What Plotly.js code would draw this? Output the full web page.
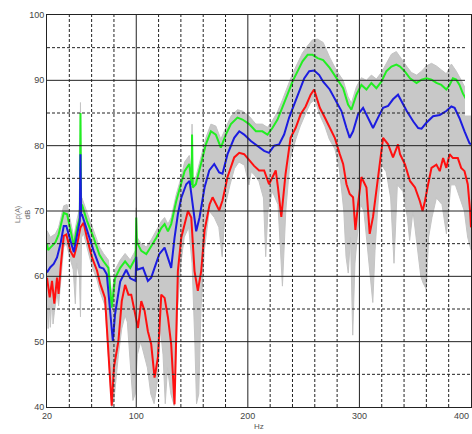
<!DOCTYPE html>
<html>
<head>
<meta charset="utf-8">
<script src="https://cdn.plot.ly/plotly-3.0.1.min.js"></script>
<style>
  html, body { margin: 0; padding: 0; background: #fff; }
  #chart { width: 472px; height: 434px; }
</style>
</head>
<body>
<div id="chart"></div>
<script>
// spectra, Hz / dB
var greenF = [20, 21, 23, 27.5, 30.4, 35, 38, 41, 44, 47, 49.4, 50, 50.6, 51.3, 55.8, 61.8, 67, 70.6, 75, 78, 81, 85.6, 90, 94.6, 99.4, 100, 100.6, 104.5, 109, 113.4, 118, 122.4, 125.4, 128.4, 131.3, 135.8, 140.3, 143.3, 147.5, 149.6, 150, 150.6, 153.4, 158, 162.4, 166.9, 171.3, 175.8, 180.3, 184.8, 190.7, 195.2, 201.2, 207.2, 213, 217.6, 222, 226.6, 231, 235.5, 240, 244.5, 249, 253.6, 258, 262.5, 267.5, 273.4, 279.4, 285.4, 289.8, 292.8, 297.3, 301.8, 306.3, 310.7, 315.2, 319.7, 324.2, 328.7, 333.1, 336.4, 341, 345.3, 351.2, 355.7, 360, 364.6, 369, 373.4, 377.9, 380.8, 383.8, 386.8, 389.7, 392.7, 396, 400];
var greenDb = [65, 64, 64.4, 65.2, 66.4, 69.7, 69.5, 67, 64.7, 67.5, 69, 85, 70, 71, 68.5, 65.9, 63.3, 62.3, 61.3, 55.2, 59.7, 61.3, 62.3, 61.3, 62.8, 69, 65.2, 63.9, 63.4, 64.6, 65.9, 67.4, 68, 66.9, 68, 71.5, 74.1, 76.1, 77.2, 74, 81.7, 73.6, 74.1, 77.2, 80.2, 82.2, 81.7, 79.7, 81.7, 83.3, 84.3, 84, 83.3, 82.2, 82.2, 81.7, 82.7, 84, 85.8, 87.8, 89.8, 91.4, 92.9, 93.9, 93.9, 93.4, 93.1, 91.9, 90.3, 88.8, 86.3, 85.5, 87.8, 89.3, 88.6, 89.6, 88.8, 89.8, 91.4, 92.1, 92.4, 92.1, 91.3, 90.3, 89.6, 90.1, 90.3, 90.1, 89.6, 89.3, 88.6, 89.3, 90.3, 90.1, 89.3, 88, 87, 86];

var blueF = [20, 23, 26, 29, 32, 35, 37.3, 41, 44, 47, 49.4, 50, 50.6, 51.3, 55.8, 61.8, 67.2, 70.6, 73.6, 77, 79, 81, 85.6, 91, 94.6, 99.4, 100, 100.6, 106, 110.4, 113.4, 116.4, 120.6, 125.4, 128.4, 131.3, 134.3, 137.3, 140.3, 144.8, 147.8, 150.7, 153.7, 156.7, 161.2, 165.4, 169.9, 174.3, 177.3, 181.8, 187.8, 192.3, 196.7, 202.7, 208.6, 214.6, 219, 223.6, 228, 232.5, 237, 241.5, 246, 250.5, 255, 259.5, 264, 267.5, 273.4, 279.4, 283.9, 288.4, 291.3, 294.3, 298.8, 303.3, 307.8, 312.2, 316.7, 321.2, 325.7, 330.1, 334.6, 342.4, 348.3, 352.7, 355.7, 360, 366, 372, 377.9, 382.4, 385.3, 389.7, 394.2, 398.6, 400];
var blueDb = [60.6, 61.4, 61.9, 62.9, 64.9, 67.7, 67.7, 65.4, 63.7, 66.4, 68.5, 78.7, 69.2, 69.5, 67, 63.9, 61.4, 61.2, 60.3, 53.2, 50.1, 54.2, 59.2, 61, 59.7, 59.3, 63, 61, 61.3, 59.3, 59.8, 61.3, 63.4, 64.4, 62.9, 61.3, 65.9, 69.5, 72, 74.1, 74.6, 71, 66.9, 69, 73.6, 76.2, 77.2, 75.9, 75.7, 78.7, 81.2, 82.2, 81.7, 80.7, 80, 79.2, 78.9, 80, 80.2, 81.7, 84.3, 86.3, 88.6, 90.3, 91.4, 91.5, 90.8, 89.8, 88.6, 86.8, 85.3, 82.7, 81.2, 82.2, 84.8, 85.8, 84.3, 82.7, 84.3, 85.8, 86.1, 87.1, 87.8, 85.3, 83.7, 82.7, 82.6, 83.5, 84.5, 84.7, 85.3, 86, 85.8, 84.2, 82.2, 80.4, 80.2];

var redF = [20, 22.4, 24.5, 26.6, 29, 30.4, 32.5, 35, 37.3, 41, 44, 47, 50, 52.8, 55.8, 60.3, 64.8, 67.8, 72, 75, 78, 80, 84, 87, 90, 93, 95.5, 98.5, 101.5, 104.5, 107.5, 110.4, 113.4, 116.4, 119.4, 122.4, 125.4, 128.4, 131.3, 134.3, 137.3, 140.3, 143.3, 146.3, 149.3, 152.2, 155.2, 158.2, 161.2, 165.7, 168.4, 171.3, 174.3, 177.3, 181.8, 187.8, 192.3, 196.7, 201.2, 205.6, 210.1, 214.6, 219, 222, 225, 227, 230, 233.8, 238.3, 242.8, 247.3, 251.8, 256.3, 259.4, 264.5, 269, 273.4, 277.9, 282.4, 285.4, 288.4, 291.3, 294.3, 296.4, 298.8, 301.8, 306.3, 309.2, 312.2, 315.2, 318.2, 321.2, 325.7, 330.1, 334.6, 336.4, 340.9, 345.3, 349.8, 354.2, 356.6, 358.7, 361.6, 364.6, 369, 372, 375, 377.9, 380.8, 383.8, 388.2, 391.2, 394.2, 397.1, 399.2, 400];
var redDb = [59.8, 56.8, 59.3, 55.8, 59.8, 57.3, 61.9, 66.2, 66.4, 63.9, 62.9, 64.9, 67.5, 68.2, 65.9, 62.9, 60.9, 58.8, 56.7, 49.1, 40.2, 46.1, 50.1, 56.2, 58.7, 57.2, 57.2, 54.7, 52.1, 56.2, 54.7, 51.6, 49.6, 44.5, 47.6, 57.2, 56.7, 53.7, 49.6, 40.4, 60.8, 65.9, 68, 70, 69, 60.8, 57.8, 60.8, 67, 71, 72.1, 71.1, 70.1, 71.6, 75.2, 78.2, 78.9, 78.7, 77.7, 76.9, 76.2, 76.2, 74.1, 75.2, 76.2, 73.6, 69.1, 75.7, 81.2, 82.7, 84.8, 86, 87.8, 88.6, 85.8, 84.3, 82.7, 81.2, 78.7, 77.2, 74.1, 72.6, 72.1, 67.1, 71.1, 75.2, 73.6, 66.5, 69.1, 73.1, 77.2, 81.2, 80.2, 78.2, 80.2, 78.7, 77.1, 74.6, 73.6, 71.5, 70, 71.5, 74.1, 76.6, 77.1, 76.1, 78.1, 76.6, 78.7, 78.1, 78.1, 76.6, 76.1, 74.1, 70, 67.5];

// grey bundle of single measurements: upper and lower edge
var grayUpF = [20, 23, 27.5, 30.4, 35, 38, 41, 44, 47, 49.4, 50, 50.6, 51.3, 55.8, 61.8, 67, 70.6, 75, 78, 81, 85.6, 90, 94.6, 99.4, 100, 100.6, 104.5, 109, 113.4, 118, 122.4, 125.4, 128.4, 131.3, 135.8, 140.3, 143.3, 147.5, 149.6, 150, 150.6, 153.4, 158, 162.4, 166.9, 171.3, 175.8, 180.3, 184.8, 190.7, 195.2, 201.2, 207.2, 213, 217.6, 222, 226.6, 231, 235.5, 240, 244.5, 249, 253.6, 258, 262.5, 267.5, 273.4, 279.4, 285.4, 289.8, 292.8, 297.3, 301.8, 306.3, 310.7, 315.2, 319.7, 324.2, 328.7, 333.1, 337.6, 342.1, 346.6, 351.2, 355.7, 360, 364.6, 369, 373.4, 377.9, 382.4, 386.8, 391.3, 394.3, 400];
var grayUpDb = [67, 66, 66.5, 67.5, 70.8, 71, 68.5, 66, 68.8, 70.5, 86.6, 71.5, 72, 69.8, 67, 64.5, 63.5, 62.5, 57, 61, 62.5, 63.5, 62.5, 64, 70.5, 66, 65, 64.5, 65.6, 67, 68.4, 69, 68, 69, 72.5, 75.2, 77.5, 78.5, 76, 83.3, 75, 75.2, 78.2, 81.2, 83.3, 83, 81, 82.8, 84.5, 85.5, 85.3, 84.5, 83.3, 83.3, 82.8, 83.8, 85.2, 87, 89, 91, 92.6, 94.2, 95.3, 96.2, 96.3, 95.8, 93.5, 91.5, 90, 87.5, 86.5, 89, 90.4, 90, 90.8, 90.2, 91.2, 92.6, 94, 94.4, 93.2, 92.2, 91.2, 90.8, 91.4, 92.2, 92.6, 92.2, 91.6, 91, 92.5, 91.4, 90, 89, 87.5];

var grayLoF = [20, 21, 22, 23, 24.5, 25.4, 26.6, 29, 30.4, 32.5, 35, 37.3, 41, 43.5, 45.4, 46.5, 49, 50, 51, 52.8, 55.8, 60.3, 64.8, 67.8, 72, 75, 78, 80, 84, 87, 90, 92, 95, 97, 99, 101, 104, 107, 110, 113, 116, 119, 121.6, 124, 126, 128, 131, 134, 137, 140, 143, 147, 150, 152.5, 154, 156, 158, 161, 165.4, 170, 174, 177, 180, 184, 188, 192, 197, 201, 203, 206, 210, 214, 216, 218, 222, 227, 231, 234, 238, 243, 247, 252, 256, 260, 265, 269, 273, 278, 282, 286, 288, 290, 292, 294, 296, 298, 301, 304, 307, 310, 312, 314, 317, 320, 324, 328, 331, 334, 339, 343, 345, 348, 352, 355, 357, 360, 362, 365, 369, 374, 378, 382, 386, 390, 394, 397, 400];
var grayLoDb = [56.5, 52, 55.5, 52.2, 57, 52.7, 54.5, 57.5, 55.5, 60, 64.5, 65, 62.5, 61, 55.8, 62, 60, 53.8, 66, 66.5, 64.5, 61.5, 59.5, 57.5, 55.5, 48, 40, 41, 48, 52, 54, 53, 45, 41, 42, 48, 50, 48, 46, 42, 40.5, 44, 52, 48, 40.5, 46, 42, 40.2, 55, 62, 66, 67.5, 62, 50, 40.5, 42, 55, 64, 70, 69, 67.5, 63, 71, 74, 76.5, 77.5, 77, 74, 76, 75.5, 74.5, 72, 63, 70, 73, 71, 58.5, 70, 78, 81, 83, 85, 86.5, 87, 84.5, 83, 81, 79.5, 76.5, 70, 63, 60.5, 66, 51, 62, 66, 71, 70, 65, 60, 56, 64, 72, 77, 76, 72, 62, 74, 73, 69, 65.5, 70, 64.5, 60, 59, 58, 66, 69, 72, 71, 66.5, 74, 74, 72, 70, 66, 64];

var xTicks = [20, 100, 200, 300, 400];
var xTickText = ['20', '100', '200', '300', ''];
var yTicks = [40, 50, 60, 70, 80, 90, 100];
// grid drawn over the curves, as in the original
var xMajorGrid = [100, 200, 300];
var xMinorGrid = [40, 60, 80, 120, 140, 160, 180, 220, 240, 260, 280, 320, 340, 360, 380];
var yMajorGrid = [50, 60, 70, 80, 90];
var yMinorGrid = [45, 55, 65, 75, 85, 95];

var grayUpper = {
  x: grayUpF, y: grayUpDb,
  mode: 'lines', hoverinfo: 'skip',
  line: { width: 1, color: '#c4c4c4' },
};

var grayLower = {
  x: grayLoF, y: grayLoDb,
  mode: 'lines', hoverinfo: 'skip',
  fill: 'tonexty', fillcolor: '#c8c8c8',
  line: { width: 1, color: '#c4c4c4' },
};

var greenLine = {
  x: greenF, y: greenDb, mode: 'lines', name: 'max',
  line: { width: 2, color: '#22ee22' },
};

var redLine = {
  x: redF, y: redDb, mode: 'lines', name: 'min',
  line: { width: 2, color: '#ff1010' },
};

var blueLine = {
  x: blueF, y: blueDb, mode: 'lines', name: 'mean',
  line: { width: 2, color: '#1c1ce0' },
};

var data = [grayUpper, grayLower, greenLine, redLine, blueLine];

var shapes = [];
xMajorGrid.forEach(function (v) {
  shapes.push({ type: 'line', xref: 'x', yref: 'paper', x0: v, x1: v, y0: 0, y1: 1,
    line: { width: 1, color: '#222' }, layer: 'above' });
});
xMinorGrid.forEach(function (v) {
  shapes.push({ type: 'line', xref: 'x', yref: 'paper', x0: v, x1: v, y0: 0, y1: 1,
    line: { width: 1, color: '#222', dash: '3px,2px' }, layer: 'above' });
});
yMajorGrid.forEach(function (v) {
  shapes.push({ type: 'line', xref: 'paper', yref: 'y', x0: 0, x1: 1, y0: v, y1: v,
    line: { width: 1, color: '#222' }, layer: 'above' });
});
yMinorGrid.forEach(function (v) {
  shapes.push({ type: 'line', xref: 'paper', yref: 'y', x0: 0, x1: 1, y0: v, y1: v,
    line: { width: 1, color: '#222', dash: '3px,2px' }, layer: 'above' });
});
// blank patch in the upper right corner of the original
shapes.push({ type: 'rect', xref: 'x', yref: 'y', x0: 394.6, x1: 402, y0: 84.6, y1: 101,
  fillcolor: '#ffffff', line: { width: 0 }, layer: 'above' });

var layout = {
  width: 472,
  height: 434,
  margin: { l: 47, r: 1, t: 15, b: 27 },
  paper_bgcolor: '#ffffff',
  plot_bgcolor: '#ffffff',
  showlegend: false,
  font: { family: 'Liberation Sans, Arial, sans-serif', size: 9, color: '#333' },
  xaxis: {
    range: [20, 400],
    tickmode: 'array',
    tickvals: xTicks,
    ticktext: xTickText,
    ticks: '',
    showgrid: false,
    zeroline: false,
    showline: true,
    mirror: true,
    linecolor: '#222',
    linewidth: 1,
    layer: 'above traces',
    tickfont: { size: 9, color: '#444' },
  },
  yaxis: {
    range: [40, 100],
    tickmode: 'array',
    tickvals: yTicks,
    ticks: '',
    showgrid: false,
    zeroline: false,
    showline: true,
    mirror: true,
    linecolor: '#222',
    linewidth: 1,
    layer: 'above traces',
    tickfont: { size: 9, color: '#444' },
  },
  shapes: shapes,
  annotations: [
    { text: '400', xref: 'x', yref: 'paper', x: 400, y: 0, xanchor: 'right', yanchor: 'top',
      yshift: -2, showarrow: false, font: { size: 9, color: '#444' } },
    { text: 'Hz', xref: 'paper', yref: 'paper', x: 0.5, y: 0, yshift: -26,
      showarrow: false, font: { size: 8, color: '#555' } },
    { text: 'Lp(A)', xref: 'paper', yref: 'paper', x: 0, y: 0.49, xshift: -35,
      textangle: -90, showarrow: false, font: { size: 7, color: '#777' } },
    { text: 'dB', xref: 'paper', yref: 'paper', x: 0, y: 0.49, xshift: -26,
      textangle: -90, showarrow: false, font: { size: 8, color: '#555' } },
  ],
};

Plotly.newPlot('chart', data, layout, { displayModeBar: false, staticPlot: true });
</script>
</body>
</html>
